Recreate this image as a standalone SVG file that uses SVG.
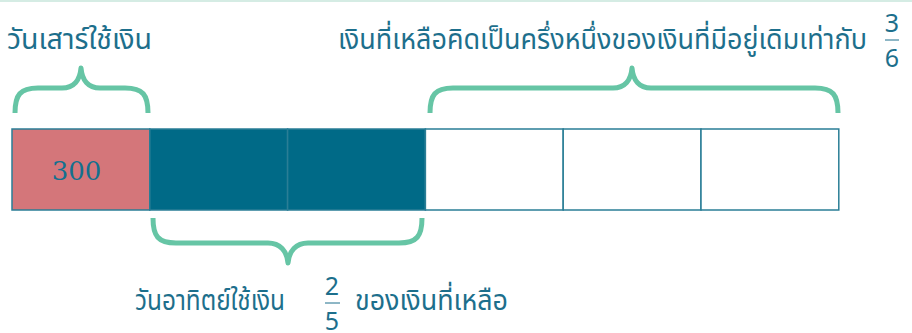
<svg xmlns="http://www.w3.org/2000/svg" width="912" height="333" viewBox="0 0 912 333">
<style>
.t{font-family:"Noto Sans Thai","Noto Sans","Liberation Sans",sans-serif;fill:#1D6F8C;font-size:28px}
.f{font-family:"Noto Sans","Liberation Sans",sans-serif;fill:#1D6F8C;font-size:25px;text-anchor:middle}
.fb{stroke:#1D6F8C;stroke-width:1}
.br{fill:none;stroke:#66C5A5;stroke-width:5;stroke-linecap:butt;stroke-linejoin:round}
.c{stroke:#2A7E96;stroke-width:1.5}
</style>
<rect x="0" y="0" width="912" height="333" fill="#FFFFFF"/>
<rect x="0" y="0" width="912" height="2" fill="#D5ECE4"/>
<g id="bar">
<rect id="cell1" class="c" x="12" y="129" width="137.8" height="81" fill="#D4767A"/>
<rect id="cell2" class="c" x="149.8" y="129" width="137.8" height="81" fill="#006A87"/>
<rect id="cell3" class="c" x="287.6" y="129" width="137.8" height="81" fill="#006A87"/>
<rect id="cell4" class="c" x="425.4" y="129" width="137.8" height="81" fill="#FFFFFF"/>
<rect id="cell5" class="c" x="563.2" y="129" width="137.8" height="81" fill="#FFFFFF"/>
<rect id="cell6" class="c" x="701" y="129" width="137.8" height="81" fill="#FFFFFF"/>
<text x="76.5" y="180" font-family="DejaVu Serif,Liberation Serif,serif" font-size="26" fill="#13708F" text-anchor="middle">300</text>
</g>
<g id="connectors">
<path class="br" d="M15,113 C15,95 20,88 38,88 L62,88 C74,88 80,80 81,68 C82,80 88,88 100,88 L125,88 C143,88 148,95 148,113"/>
<path class="br" d="M430,113 C430,95 435,88 453,88 L613,88 C625,88 631,80 632,68 C633,80 639,88 651,88 L815,88 C833,88 838,95 838,113"/>
<path class="br" d="M153,218 C153,236 158,243 176,243 L268,243 C280,243 287,251 288,263 C289,251 296,243 308,243 L399,243 C417,243 422,236 422,218"/>
</g>
<g id="label-sat">
<text class="t" x="7" y="49" textLength="145" lengthAdjust="spacingAndGlyphs">วันเสาร์ใช้เงิน</text>
</g>
<g id="label-rest">
<text class="t" x="338" y="49" textLength="529" lengthAdjust="spacingAndGlyphs">เงินที่เหลือคิดเป็นครึ่งหนึ่งของเงินที่มีอยู่เดิมเท่ากับ</text>
<text class="f" x="892" y="32">3</text>
<line class="fb" x1="885" y1="40" x2="899" y2="40"/>
<text class="f" x="892" y="67">6</text>
</g>
<g id="label-sun">
<text class="t" x="135" y="310" textLength="150" lengthAdjust="spacingAndGlyphs">วันอาทิตย์ใช้เงิน</text>
<text class="f" x="332" y="295">2</text>
<line class="fb" x1="325" y1="303" x2="340" y2="303"/>
<text class="f" x="332" y="330">5</text>
<text class="t" x="355" y="310" textLength="153" lengthAdjust="spacingAndGlyphs">ของเงินที่เหลือ</text>
</g>
</svg>
